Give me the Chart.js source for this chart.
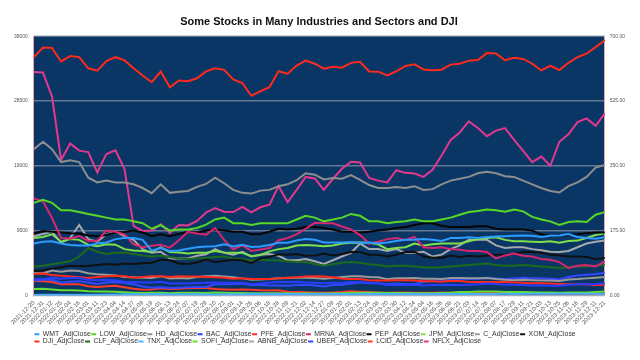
<!DOCTYPE html>
<html><head><meta charset="utf-8">
<script src="https://cdn.jsdelivr.net/npm/chart.js@4.4.0/dist/chart.umd.min.js"></script>
<style>html,body{margin:0;padding:0;background:#fff}canvas{display:block}</style>
</head><body>
<canvas id="c" width="640" height="360"></canvas>
<script>
const dates = ["2021-12-20","2021-12-31","2022-01-12","2022-01-25","2022-02-04","2022-02-16","2022-03-01","2022-03-11","2022-03-23","2022-04-04","2022-04-14","2022-04-27","2022-05-09","2022-05-19","2022-06-01","2022-06-13","2022-06-24","2022-07-07","2022-07-19","2022-07-29","2022-08-10","2022-08-22","2022-09-01","2022-09-14","2022-09-26","2022-10-06","2022-10-18","2022-10-28","2022-11-09","2022-11-21","2022-12-02","2022-12-14","2022-12-27","2023-01-09","2023-01-20","2023-02-01","2023-02-13","2023-02-24","2023-03-08","2023-03-20","2023-03-30","2023-04-12","2023-04-24","2023-05-04","2023-05-16","2023-05-26","2023-06-08","2023-06-21","2023-07-03","2023-07-14","2023-07-26","2023-08-07","2023-08-17","2023-08-29","2023-09-11","2023-09-21","2023-10-03","2023-10-13","2023-10-25","2023-11-06","2023-11-16","2023-11-29","2023-12-11","2023-12-21"];

const leftTicks = [0, 9500, 19000, 28500, 38000];
const rightTicks = [0, 175, 350, 525, 700];

const WMT = [140,145,146,140,136,135,135,140,143,152,155,155,150,121,128,120,121,126,130,132,133,138,132,137,131,132,136,142,142,148,152,150,143,143,143,144,142,143,140,143,147,150,150,152,150,147,155,155,157,155,158,159,160,161,162,161,158,161,162,166,158,155,153,157];
const LOW = [250,258,250,230,230,225,220,215,210,205,205,200,195,180,190,175,178,178,182,191,205,210,195,195,190,195,195,195,195,205,215,210,200,205,210,220,215,200,200,195,198,200,205,200,200,205,210,218,225,228,232,230,226,232,227,212,205,200,190,198,200,198,218,225];
const HD = [395,415,395,360,365,360,318,305,310,305,305,300,290,276,300,277,280,282,293,301,318,303,285,277,275,283,285,295,300,311,330,326,313,317,315,325,312,298,290,290,293,290,295,285,287,300,310,315,320,330,334,330,322,320,310,300,290,282,278,295,305,320,345,352];
const BAC = [43,44,48,45,47,47,42,41,42,41,37,36,35,35,37,32,32,32,33,34,35,34,34,34,30,32,35,36,36,37,35,34,33,34,34,36,36,34,33,28,28,28,29,27,28,28,29,28,29,30,32,31,29,29,28,27,27,26,26,29,30,30,31,33];
const PFE = [58,59,55,53,51,49,47,50,52,53,52,48,50,52,52,50,52,51,51,50,49,48,45,46,44,44,44,46,48,49,51,52,51,49,45,44,44,41,40,40,41,41,40,38,38,37,39,39,36,36,36,36,36,35,34,33,33,32,31,30,30,30,28,29];
const MRNA = [262,254,209,155,153,160,147,148,175,172,165,138,130,134,137,129,149,172,167,164,182,150,124,135,120,124,128,149,155,165,180,196,195,195,186,178,163,140,145,152,155,150,158,130,128,130,125,123,120,120,117,100,108,113,107,105,98,96,90,74,80,82,78,92];
const PEP = [168,174,172,170,168,167,162,160,163,170,171,175,170,160,165,160,166,172,170,175,178,175,172,172,165,166,172,180,178,180,185,185,182,178,172,172,170,172,175,178,182,185,190,195,195,188,185,185,185,187,187,180,178,178,178,175,165,160,162,163,165,168,170,170];
const JPM = [155,158,165,145,152,150,137,133,138,137,125,121,120,117,130,117,116,113,115,115,120,116,115,115,106,109,119,125,128,135,136,135,133,135,140,142,143,142,138,125,128,130,140,135,138,140,140,140,146,152,155,157,150,146,146,145,144,146,142,147,148,155,163,168];
const C = [60,60,67,64,67,66,60,57,56,54,50,49,48,47,52,46,47,46,50,52,53,51,49,46,42,43,44,46,47,48,48,47,45,47,50,52,52,50,49,44,46,46,47,45,45,44,47,47,46,46,47,44,42,41,42,41,40,40,39,43,44,46,48,50];
const XOM = [66,67,72,76,80,79,80,82,85,83,86,85,87,88,96,95,86,85,89,97,90,93,96,95,87,100,104,111,110,112,107,108,113,108,112,117,117,110,110,105,110,117,118,105,102,102,108,104,107,105,108,110,110,112,118,117,115,110,108,105,105,104,98,101];
const DJI = [34932,36338,36290,34297,35089,34934,33294,32944,34358,34922,34451,33301,32246,31253,32813,30517,31501,31385,31827,32845,33310,33064,31656,31135,29261,29927,30524,32861,32514,33700,34430,33966,33241,33518,33375,34093,34246,32817,32798,32245,32859,33647,33876,33128,33012,33093,33834,33952,34418,34509,35520,35473,34475,34852,34663,33964,33002,33670,33035,34096,34945,35430,36404,37404];
const CLF = [78,80,84,88,92,105,128,118,112,115,116,112,108,105,108,104,100,98,100,102,104,105,100,98,94,97,95,94,92,90,90,85,80,84,88,90,88,84,82,78,80,80,78,76,75,76,78,80,82,84,86,82,80,80,82,80,78,76,74,76,78,78,80,83];
const TNX = [1.42,1.51,1.74,1.78,1.92,2.04,1.72,2.00,2.32,2.41,2.83,2.82,3.03,2.84,2.91,3.37,3.13,3.00,3.01,2.65,2.78,3.03,3.26,3.41,3.93,3.83,4.00,4.01,4.09,3.83,3.51,3.48,3.85,3.53,3.48,3.39,3.71,3.95,3.98,3.48,3.55,3.41,3.49,3.38,3.54,3.80,3.72,3.72,3.86,3.83,3.87,4.08,4.30,4.12,4.29,4.49,4.81,4.63,4.95,4.65,4.45,4.26,4.24,3.89];
const SOFI = [17,18,16,14,14,13.5,11.5,10.5,10.5,10,8.5,7.5,6.5,7,7.5,6,7,7,7,6.8,8,7,6.5,6.5,5.5,6,5.8,6,5.5,5,5.5,5.2,5,6,6,7,7.5,7,7,6.5,6.5,6.5,6,5.5,5.5,6.5,7.5,9,9,10.5,10.5,10.5,9.5,9.5,9,8.5,8,8,7.5,8,8,8,9.5,10.5];
const ABNB = [160,166,172,142,155,190,152,145,165,172,160,150,125,115,118,100,100,100,107,111,125,115,110,118,105,110,112,107,95,95,98,92,85,95,105,115,140,125,125,120,125,115,115,118,105,110,125,135,150,150,150,135,128,130,130,125,122,118,117,120,130,140,145,148];
const UBER = [40,42,42,34,37,38,35,31,35,36,34,30,24,21,22,20,21,22,23,23,31,30,31,32,28,28,27,27,26,28,29,27,24,28,29,32,35,33,33,30,32,30,30,36,38,38,42,42,44,45,48,46,44,46,48,46,46,45,43,50,54,56,58,61];
const LCID = [39,38,36,30,30,30,25,23,25,26,22,18,15,16,19,17,18,19,20,20,17,16,15,16,15,14,13,14,10,9,8.5,8,7,8,9,11,10,9,8,7.5,8,8,7.5,7,7.5,8,7,7,7,7.5,7,6.5,6,6,5.5,5.5,5,5,4.5,4.3,4.3,4,4,4.3];
const NFLX = [603,602,537,366,410,391,387,332,382,392,341,188,174,175,192,169,190,189,201,224,236,226,225,239,224,238,245,295,252,285,320,316,285,315,342,361,359,317,310,305,338,331,329,320,339,378,420,440,470,452,430,445,452,420,390,360,375,350,415,435,468,478,458,491];

const seriesNames = ["WMT_AdjClose","LOW_AdjClose","HD_AdjClose","BAC_AdjClose","PFE_AdjClose","MRNA_AdjClose","PEP_AdjClose","JPM_AdjClose","C_AdjClose","XOM_AdjClose","DJI_AdjClose","CLF_AdjClose","TNX_AdjClose","SOFI_AdjClose","ABNB_AdjClose","UBER_AdjClose","LCID_AdjClose","NFLX_AdjClose"];
const seriesValues = [WMT,LOW,HD,BAC,PFE,MRNA,PEP,JPM,C,XOM,DJI,CLF,TNX,SOFI,ABNB,UBER,LCID,NFLX];
const seriesColors = ["#2e9bff","#58d826","#8e8e8e","#2a3cff","#ff2a1c","#d8276e","#050505","#7ee04a","#9a9a9a","#101010","#ff2a1c","#1d6a1d","#46b0ff","#66dd33","#a8a8a8","#3347ff","#ff3a26","#e2388e"];

const datasets = seriesNames.map((name, i) => ({
  label: name,
  data: seriesValues[i],
  borderColor: seriesColors[i],
  backgroundColor: seriesColors[i],
  borderWidth: 2,
  pointRadius: 0,
  tension: 0,
  yAxisID: name === "DJI_AdjClose" ? "y" : "y1"
}));

const bgPlugin = {
  id: 'plotBg',
  beforeDraw(chart) {
    const a = chart.chartArea, ctx = chart.ctx;
    ctx.save();
    ctx.fillStyle = '#0a3665';
    ctx.fillRect(a.left, a.top, a.right - a.left, a.bottom - a.top);
    ctx.restore();
  }
};

const FONT = "'Liberation Sans', Arial, sans-serif";
new Chart(document.getElementById('c'), {
  type: 'line',
  data: { labels: dates, datasets },
  plugins: [bgPlugin],
  options: {
    responsive: false,
    animation: false,
    layout: { padding: { left: 8, right: 10, top: 0, bottom: 5 } },
    plugins: {
      title: {
        display: true,
        text: 'Some Stocks in Many Industries and Sectors and DJI',
        color: '#111',
        font: { family: FONT, size: 11, weight: 'bold' },
        padding: { top: 15, bottom: 8 }
      },
      legend: {
        position: 'bottom',
        align: 'start',
        fullSize: false,
        labels: {
          font: { family: FONT, size: 6.9 },
          color: '#333',
          boxWidth: 5,
          boxHeight: 2,
          padding: 0.5,
          generateLabels(chart) {
            const items = Chart.defaults.plugins.legend.labels.generateLabels(chart);
            items.forEach(it => { it.lineWidth = 0; });
            return items;
          }
        }
      },
      tooltip: { enabled: false }
    },
    scales: {
      x: {
        grid: { display: false, drawTicks: false },
        border: { display: false },
        ticks: {
          autoSkip: false, maxRotation: 45, minRotation: 45,
          font: { family: FONT, size: 6 }, color: '#555', padding: 4
        }
      },
      y: {
        position: 'left',
        min: 0, max: 38000,
        afterBuildTicks(axis) { axis.ticks = leftTicks.map(v => ({ value: v })); },
        grid: { color: 'rgba(175,175,185,0.55)', lineWidth: 1.5, drawTicks: false },
        border: { display: true, color: '#e4a4b0', width: 1 },
        ticks: { font: { family: FONT, size: 5 }, color: '#555', padding: 6,
          callback: v => String(v) }
      },
      y1: {
        position: 'right',
        min: 0, max: 700,
        afterBuildTicks(axis) { axis.ticks = rightTicks.map(v => ({ value: v })); },
        grid: { display: false, drawTicks: false },
        border: { display: true, color: '#e4a4b0', width: 1 },
        ticks: { font: { family: FONT, size: 5 }, color: '#555', padding: 5,
          callback: v => Number(v).toFixed(2) }
      }
    }
  }
});
</script>
</body></html>
